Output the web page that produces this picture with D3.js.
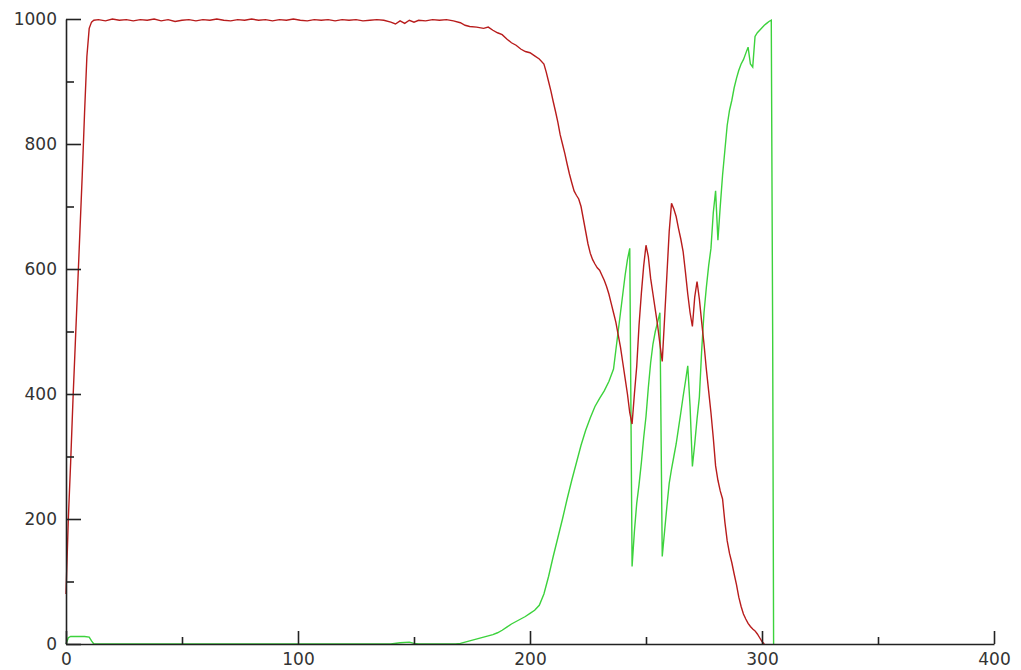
<!DOCTYPE html>
<html>
<head>
<meta charset="utf-8">
<script src="https://cdn.jsdelivr.net/npm/d3@7"></script>
<style>
  html, body { margin: 0; padding: 0; background: #fff; }
  .axis text { font-family: "DejaVu Sans", sans-serif; font-size: 17px; fill: #333; }
  .axis path, .axis line { stroke: #222; stroke-width: 1.6; }
</style>
</head>
<body>
<div id="chart"></div>
<script>
// red series: x (generation) and value
const redX = [0,1,2,3,4,5,6,7,8,9,10,11,12,14,17,20,23,26,29,32,35,38,41,44,47,50,53,56,59,62,65,68,71,74,77,80,83,86,89,92,95,98,101,104,107,110,113,116,119,122,125,128,131,134,137,140,142,144,146,148,150,152,155,158,161,164,167,170,172,174,177,180,182,184,186,188,190,192,194,196,198,200,202,204,206,207,208,209,210,211,212,213,214,215,216,217,218,219,220,221,222,223,224,225,226,227,228,229,230,231,232,233,234,235,236,237,238,239,240,241,242,243,244,245,246,247,248,249,250,251,252,253,254,255,256,257,258,259,260,261,262,263,264,265,266,267,268,269,270,271,272,273,274,275,276,277,278,279,280,281,282,283,284,285,286,287,288,289,290,291,292,293,294,295,296,297,298,299,300,301];
const redY = [80,200,290,390,480,570,660,750,850,940,985,995,998,999,997,1000,998,999,997,999,998,1000,997,999,996,998,999,997,999,998,1000,998,997,999,998,1000,998,999,997,999,998,1000,998,997,999,998,999,997,999,998,999,997,998,999,998,995,992,997,993,998,995,998,997,999,998,999,997,994,990,988,987,985,987,982,978,975,968,962,958,952,948,946,941,936,928,915,900,885,868,852,835,815,800,785,768,752,738,725,718,712,700,680,660,640,625,615,608,602,598,590,582,572,560,545,530,515,495,475,450,425,400,370,352,400,444,510,561,605,638,620,585,560,535,510,480,452,520,590,660,705,696,684,665,648,628,595,560,530,508,555,580,552,515,480,440,405,370,330,285,262,245,232,195,165,145,130,112,95,75,60,48,40,33,28,24,21,16,10,4,0];

// green series
const greenX = [0,1,2,4,6,8,10,11,12,140,144,148,150,152,168,170,172,174,176,178,180,182,184,186,188,190,192,194,196,198,200,202,204,206,208,210,212,214,216,218,220,222,224,226,228,230,232,234,236,237,238,239,240,241,242,243,244,245,246,247,248,249,250,251,252,253,254,255,256,257,258,259,260,261,262,263,264,265,266,267,268,269,270,271,272,273,274,275,276,277,278,279,280,281,282,283,284,285,286,287,288,289,290,291,292,293,294,295,296,297,298,299,300,301,302,303,304,304.6,305];
const greenY = [0,10,12,12,12,12,11,5,0,0,2,3,1,0,0,1,3,5,7,9,11,13,15,18,22,27,32,36,40,44,49,54,62,80,108,140,170,200,232,262,290,318,342,362,380,393,405,420,440,470,500,530,560,590,615,633,124,180,225,255,290,330,364,410,450,480,500,515,530,140,180,220,257,280,300,320,345,370,396,420,445,380,284,320,360,395,470,530,570,605,633,690,725,646,700,750,790,830,854,870,890,905,918,928,935,945,955,928,923,972,978,982,986,990,993,996,998,495,0];

const xMajor = [0,100,200,300,400];
const xMinor = [50,150,250,350];
const yMajor = [0,200,400,600,800,1000];
const yMinor = [100,300,500,700,900];

const width = 1021, height = 670;
const margin = { top: 19, right: 27, bottom: 26, left: 66 };

const svg = d3.select('#chart')
    .append('svg')
    .attr('width', width)
    .attr('height', height);

const x = d3.scaleLinear()
    .domain([0, 400])
    .range([margin.left, width - margin.right]);

const y = d3.scaleLinear()
    .domain([0, 1000])
    .range([height - margin.bottom, margin.top]);

const line = d3.line()
    .x(d => x(d[0]))
    .y(d => y(d[1]));

svg.append('path')
    .datum(d3.zip(greenX, greenY))
    .attr('fill', 'none')
    .attr('stroke', '#3cd23c')
    .attr('stroke-width', 1.4)
    .attr('d', line);

svg.append('path')
    .datum(d3.zip(redX, redY))
    .attr('fill', 'none')
    .attr('stroke', '#b81c1c')
    .attr('stroke-width', 1.4)
    .attr('d', line);

// minor ticks first, then the labelled axes on top
svg.append('g')
    .attr('class', 'axis')
    .attr('transform', `translate(0,${y(0)})`)
    .call(d3.axisBottom(x).tickValues(xMinor).tickSize(-7).tickFormat(''))
    .select('.domain').remove();

svg.append('g')
    .attr('class', 'axis')
    .attr('transform', `translate(${x(0)},0)`)
    .call(d3.axisLeft(y).tickValues(yMinor).tickSize(-8).tickFormat(''))
    .select('.domain').remove();

svg.append('g')
    .attr('class', 'axis')
    .attr('transform', `translate(0,${y(0)})`)
    .call(d3.axisBottom(x).tickValues(xMajor).tickSize(-13).tickSizeOuter(0).tickPadding(9).tickFormat(d3.format('d')));

svg.append('g')
    .attr('class', 'axis')
    .attr('transform', `translate(${x(0)},0)`)
    .call(d3.axisLeft(y).tickValues(yMajor).tickSize(-15).tickSizeOuter(0).tickPadding(9).tickFormat(d3.format('d')));
</script>
</body>
</html>
